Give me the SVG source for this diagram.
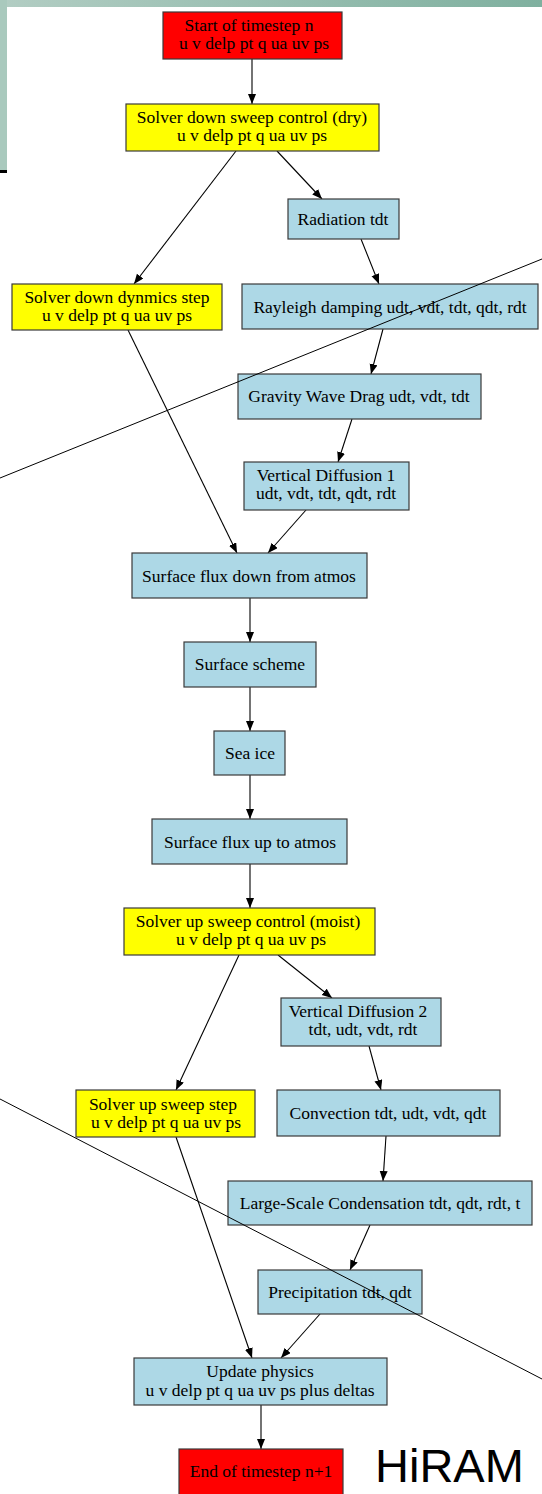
<svg xmlns="http://www.w3.org/2000/svg" width="542" height="1494" viewBox="0 0 542 1494">
  <defs>
    <linearGradient id="band" x1="0" y1="0" x2="1" y2="0">
      <stop offset="0" stop-color="#b2cdc3"/>
      <stop offset="1" stop-color="#7fb09f"/>
    </linearGradient>
    <marker id="arrow" markerUnits="userSpaceOnUse" markerWidth="11" markerHeight="9" refX="10" refY="4" orient="auto">
      <path d="M0,0 L10,4 L0,8 z" fill="#000"/>
    </marker>
    <style>
      .box rect { stroke: #3a3a3a; stroke-width: 1.2; }
      .red rect { fill: #ff0000; }
      .yellow rect { fill: #ffff00; }
      .blue rect { fill: #add8e6; }
      .box text { font-family: "Liberation Serif", "Times New Roman", serif; font-size: 17.5px; fill: #000; text-anchor: middle; }
      .edges line { stroke: #000; stroke-width: 1.1; marker-end: url(#arrow); }
      .cut line { stroke: #000; stroke-width: 1; }
    </style>
  </defs>

  <rect width="542" height="1494" fill="#fff"/>

  <!-- slide frame -->
  <rect x="0" y="0" width="542" height="7" fill="url(#band)"/>
  <rect x="0" y="0" width="7" height="170" fill="#a9c9bd"/>
  <rect x="0" y="170" width="7" height="3" fill="#000"/>

  <!-- connectors -->
  <g class="edges">
    <line x1="252" y1="59" x2="252" y2="104"/>
    <line x1="236" y1="151" x2="134" y2="284"/>
    <line x1="277" y1="151" x2="322" y2="199"/>
    <line x1="361" y1="239" x2="379" y2="284"/>
    <line x1="383" y1="329" x2="371" y2="374"/>
    <line x1="352" y1="419" x2="338" y2="462"/>
    <line x1="128" y1="330" x2="237" y2="553"/>
    <line x1="306" y1="510" x2="268" y2="553"/>
    <line x1="250" y1="598" x2="250" y2="642"/>
    <line x1="250" y1="687" x2="250" y2="731"/>
    <line x1="250" y1="775" x2="250" y2="819"/>
    <line x1="250" y1="864" x2="250" y2="908"/>
    <line x1="239" y1="955" x2="176" y2="1090"/>
    <line x1="278" y1="955" x2="332" y2="998"/>
    <line x1="369" y1="1046" x2="381" y2="1090"/>
    <line x1="386" y1="1136" x2="383" y2="1181"/>
    <line x1="370" y1="1225" x2="350" y2="1270"/>
    <line x1="320" y1="1314" x2="281" y2="1358"/>
    <line x1="176" y1="1137" x2="252" y2="1358"/>
    <line x1="261" y1="1405" x2="261" y2="1449"/>
  </g>

  <!-- nodes -->
  <g id="start" class="box red">
    <rect x="163" y="12" width="179" height="47"/>
    <text x="249" y="31">Start of timestep n</text>
    <text x="254" y="49">u v delp pt q ua uv ps</text>
  </g>
  <g id="down-control" class="box yellow">
    <rect x="126" y="104" width="253" height="47"/>
    <text x="252" y="123">Solver down sweep control (dry)</text>
    <text x="252" y="141">u v delp pt q ua uv ps</text>
  </g>
  <g id="radiation" class="box blue">
    <rect x="288" y="199" width="111" height="40"/>
    <text x="343" y="225">Radiation tdt</text>
  </g>
  <g id="down-step" class="box yellow">
    <rect x="12" y="284" width="210" height="46"/>
    <text x="117" y="303">Solver down dynmics step</text>
    <text x="117" y="321">u v delp pt q ua uv ps</text>
  </g>
  <g id="rayleigh" class="box blue">
    <rect x="242" y="284" width="296" height="45"/>
    <text x="390" y="313">Rayleigh damping udt, vdt, tdt, qdt, rdt</text>
  </g>
  <g id="gwd" class="box blue">
    <rect x="238" y="374" width="243" height="45"/>
    <text x="359" y="402">Gravity Wave Drag udt, vdt, tdt</text>
  </g>
  <g id="vdiff1" class="box blue">
    <rect x="244" y="462" width="165" height="48"/>
    <text x="326" y="481">Vertical Diffusion 1</text>
    <text x="326" y="499">udt, vdt, tdt, qdt, rdt</text>
  </g>
  <g id="flux-down" class="box blue">
    <rect x="132" y="553" width="235" height="45"/>
    <text x="249" y="582">Surface flux down from atmos</text>
  </g>
  <g id="surface" class="box blue">
    <rect x="184" y="642" width="132" height="45"/>
    <text x="250" y="670">Surface scheme</text>
  </g>
  <g id="seaice" class="box blue">
    <rect x="214" y="731" width="71" height="44"/>
    <text x="250" y="759">Sea ice</text>
  </g>
  <g id="flux-up" class="box blue">
    <rect x="152" y="819" width="195" height="45"/>
    <text x="250" y="848">Surface flux up to atmos</text>
  </g>
  <g id="up-control" class="box yellow">
    <rect x="124" y="908" width="251" height="47"/>
    <text x="248" y="927">Solver up sweep control (moist)</text>
    <text x="251" y="945">u v delp pt q ua uv ps</text>
  </g>
  <g id="vdiff2" class="box blue">
    <rect x="281" y="998" width="160" height="48"/>
    <text x="358" y="1017">Vertical Diffusion 2</text>
    <text x="363" y="1035">tdt, udt, vdt, rdt</text>
  </g>
  <g id="up-step" class="box yellow">
    <rect x="76" y="1090" width="179" height="47"/>
    <text x="163" y="1110">Solver up sweep step</text>
    <text x="166" y="1128">u v delp pt q ua uv ps</text>
  </g>
  <g id="convection" class="box blue">
    <rect x="277" y="1090" width="223" height="46"/>
    <text x="388" y="1119">Convection tdt, udt, vdt, qdt</text>
  </g>
  <g id="lsc" class="box blue">
    <rect x="228" y="1181" width="304" height="44"/>
    <text x="380" y="1209">Large-Scale Condensation tdt, qdt, rdt, t</text>
  </g>
  <g id="precip" class="box blue">
    <rect x="258" y="1270" width="164" height="44"/>
    <text x="340" y="1298">Precipitation tdt, qdt</text>
  </g>
  <g id="update" class="box blue">
    <rect x="134" y="1358" width="253" height="47"/>
    <text x="260" y="1377">Update physics</text>
    <text x="260" y="1396">u v delp pt q ua uv ps plus deltas</text>
  </g>
  <g id="end" class="box red">
    <rect x="179" y="1449" width="164" height="48"/>
    <text x="261" y="1477">End of timestep n+1</text>
  </g>

  <!-- cut lines across the chart -->
  <g class="cut">
    <line x1="0" y1="478" x2="542" y2="259"/>
    <line x1="0" y1="1099" x2="542" y2="1379"/>
  </g>

  <text x="375" y="1482" font-family="Liberation Sans, Arial, sans-serif" font-size="47" fill="#000">HiRAM</text>
</svg>
